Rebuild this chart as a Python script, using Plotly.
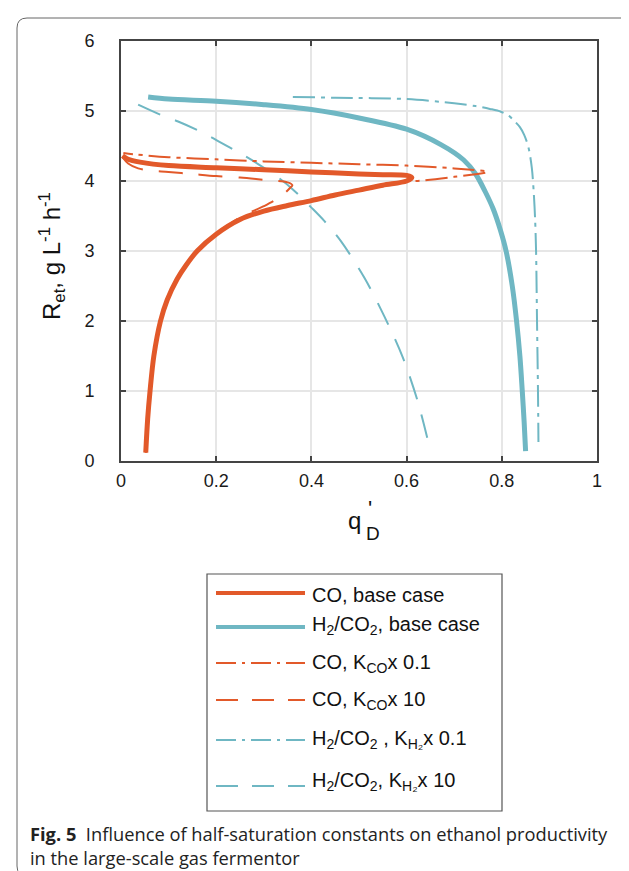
import plotly.graph_objects as go

# ---------------- data ----------------
co_base_x = [0.052, 0.056, 0.061, 0.069, 0.083, 0.097, 0.118, 0.137, 0.160, 0.200, 0.250, 0.300,
             0.350, 0.400, 0.450, 0.500, 0.550, 0.600, 0.611,
             0.600, 0.550, 0.500, 0.400, 0.300, 0.200, 0.100, 0.040, 0.015, 0.003]
co_base_y = [0.12, 0.60, 1.00, 1.50, 2.00, 2.30, 2.60, 2.80, 3.00, 3.24, 3.45, 3.57,
             3.65, 3.72, 3.80, 3.87, 3.94, 4.00, 4.05,
             4.08, 4.09, 4.10, 4.13, 4.16, 4.19, 4.22, 4.27, 4.31, 4.36]

co_k01_x = [0.052, 0.056, 0.061, 0.069, 0.083, 0.097, 0.118, 0.137, 0.160, 0.200, 0.250, 0.300,
            0.350, 0.400, 0.450, 0.500, 0.550, 0.600, 0.620,
            0.700, 0.770, 0.700, 0.600, 0.500, 0.400, 0.300, 0.200, 0.100, 0.030, 0.005]
co_k01_y = [0.12, 0.60, 1.00, 1.50, 2.00, 2.30, 2.60, 2.80, 3.00, 3.24, 3.45, 3.57,
            3.65, 3.72, 3.80, 3.87, 3.94, 4.00, 4.00,
            4.06, 4.13, 4.18, 4.22, 4.24, 4.26, 4.28, 4.31, 4.34, 4.38, 4.40]

co_k10_x = [0.052, 0.056, 0.061, 0.069, 0.083, 0.097, 0.118, 0.137, 0.160, 0.200, 0.250, 0.300,
            0.336, 0.355, 0.360, 0.350, 0.310, 0.250, 0.200, 0.150, 0.100, 0.060, 0.036, 0.015, 0.003]
co_k10_y = [0.12, 0.60, 1.00, 1.50, 2.00, 2.30, 2.60, 2.80, 3.00, 3.24, 3.48, 3.64,
            3.78, 3.90, 3.94, 3.98, 4.01, 4.05, 4.07, 4.10, 4.13, 4.15, 4.18, 4.25, 4.34]

h2_base_x = [0.057, 0.100, 0.200, 0.300, 0.400, 0.500, 0.600, 0.672, 0.720, 0.745, 0.765,
             0.782, 0.797, 0.809, 0.822, 0.831, 0.838, 0.843, 0.847, 0.850]
h2_base_y = [5.20, 5.17, 5.14, 5.09, 5.02, 4.90, 4.74, 4.52, 4.30, 4.10, 3.85,
             3.60, 3.30, 3.00, 2.50, 2.00, 1.50, 1.00, 0.55, 0.14]

h2_k01_x = [0.361, 0.450, 0.600, 0.700, 0.745, 0.775, 0.798, 0.815, 0.826, 0.838, 0.847,
            0.856, 0.863, 0.867, 0.870, 0.872, 0.874, 0.876, 0.877]
h2_k01_y = [5.20, 5.19, 5.17, 5.11, 5.07, 5.03, 4.99, 4.93, 4.86, 4.77, 4.66,
            4.48, 4.19, 3.85, 3.45, 3.00, 2.00, 1.00, 0.27]

h2_k10_x = [0.036, 0.085, 0.120, 0.172, 0.204, 0.252, 0.284, 0.330, 0.361, 0.400, 0.427,
            0.462, 0.511, 0.553, 0.592, 0.623, 0.646]
h2_k10_y = [5.09, 4.94, 4.85, 4.69, 4.57, 4.39, 4.26, 4.05, 3.88, 3.62, 3.43,
            3.14, 2.62, 2.07, 1.48, 0.86, 0.26]

x_ticks = [0, 0.2, 0.4, 0.6, 0.8, 1]
x_tick_labels = ["0", "0.2", "0.4", "0.6", "0.8", "1"]
y_ticks = [0, 1, 2, 3, 4, 5, 6]
y_tick_labels = ["0", "1", "2", "3", "4", "5", "6"]

legend_labels = [
    "CO, base case",
    "H<sub>2</sub>/CO<sub>2</sub>, base case",
    "CO, K<sub>CO</sub>x 0.1",
    "CO, K<sub>CO</sub>x 10",
    "H<sub>2</sub>/CO<sub>2</sub> , K<sub>H₂</sub>x 0.1",
    "H<sub>2</sub>/CO<sub>2</sub>, K<sub>H₂</sub>x 10",
]

# ---------------- style ----------------
ORANGE = "#E2592A"
TEAL = "#6FB7C3"
W, H = 629, 871
ML, MR, MT, MB = 113, 40, 33, 418
PW, PH = W - ML - MR, H - MT - MB
FONT = "Liberation Sans, Arial, sans-serif"
DASH = "24px,16px"
DASHDOT = "22px,6px,4px,6px"


def pxx(x):
    return (x - ML) / PW


def pxy(y):
    return (H - MB - y) / PH


series = [
    (h2_k10_x, h2_k10_y, TEAL, 2, DASH),
    (h2_k01_x, h2_k01_y, TEAL, 2, DASHDOT),
    (co_base_x, co_base_y, ORANGE, 5, "solid"),
    (h2_base_x, h2_base_y, TEAL, 5, "solid"),
    (co_k10_x, co_k10_y, ORANGE, 2, DASH),
    (co_k01_x, co_k01_y, ORANGE, 2, DASHDOT),
]

fig = go.Figure()
for xs, ys, col, w, d in series:
    fig.add_trace(go.Scatter(x=xs, y=ys, mode="lines",
                             line=dict(color=col, width=w, dash=d, shape="spline", smoothing=0.9),
                             showlegend=False, hoverinfo="skip"))

axis_common = dict(showline=True, mirror="ticks", linecolor="#444444", linewidth=1.6,
                   ticks="inside", ticklen=5, tickwidth=1.6, tickcolor="#444444",
                   showgrid=True, gridcolor="#E6E6E6", gridwidth=1.5, zeroline=False,
                   tickfont=dict(family=FONT, size=18, color="#1a1a1a"))

fig.update_xaxes(range=[0, 1], tickvals=x_ticks, ticktext=x_tick_labels,
                 ticklabelstandoff=3, **axis_common)
fig.update_yaxes(range=[0, 6], tickvals=y_ticks, ticktext=y_tick_labels,
                 ticklabelstandoff=21, **axis_common)

shapes = []
annotations = []

# outer rounded frame
fl, ft, fr, fb, rad = 9, 10, 627, 868, 10
path = (f"M{pxx(fl)},{pxy(ft+rad)} Q{pxx(fl)},{pxy(ft)} {pxx(fl+rad)},{pxy(ft)} "
        f"L{pxx(fr-rad)},{pxy(ft)} Q{pxx(fr)},{pxy(ft)} {pxx(fr)},{pxy(ft+rad)} "
        f"L{pxx(fr)},{pxy(fb-rad)} Q{pxx(fr)},{pxy(fb)} {pxx(fr-rad)},{pxy(fb)} "
        f"L{pxx(fl+rad)},{pxy(fb)} Q{pxx(fl)},{pxy(fb)} {pxx(fl)},{pxy(fb-rad)} Z")
shapes.append(dict(type="path", path=path, xref="paper", yref="paper",
                   line=dict(color="#666666", width=1)))

# legend box
shapes.append(dict(type="rect", xref="paper", yref="paper",
                   x0=pxx(199), x1=pxx(494), y0=pxy(566), y1=pxy(803),
                   line=dict(color="#555555", width=1.2), fillcolor="white"))
leg_styles = [(ORANGE, 4, "solid"), (TEAL, 4, "solid"), (ORANGE, 1.8, "dashdot"),
              (ORANGE, 1.8, "dash"), (TEAL, 1.8, "dashdot"), (TEAL, 1.8, "dash")]
leg_line_y = [585, 619, 655, 692, 732, 778]
leg_text_y = [587, 617, 655, 692, 731, 773]
leg_dash = {"solid": "solid", "dash": "22px,14px", "dashdot": "20px,6px,3px,6px"}
for (col, w, d), ly, ty, lab in zip(leg_styles, leg_line_y, leg_text_y, legend_labels):
    shapes.append(dict(type="line", xref="paper", yref="paper",
                       x0=pxx(208), x1=pxx(297), y0=pxy(ly), y1=pxy(ly),
                       line=dict(color=col, width=w, dash=leg_dash[d])))
    annotations.append(dict(text=lab, xref="paper", yref="paper", x=pxx(302), y=pxy(ty),
                            xanchor="left", yanchor="middle", showarrow=False,
                            font=dict(family=FONT, size=20, color="#111111")))

# axis titles
annotations.append(dict(text="R<sub>et</sub>, g L<sup>-1</sup> h<sup>-1</sup>",
                        xref="paper", yref="paper", x=pxx(44), y=pxy(248), textangle=-90,
                        xanchor="center", yanchor="middle", showarrow=False,
                        font=dict(family=FONT, size=24, color="#111111")))
annotations.append(dict(text="q", xref="paper", yref="paper", x=pxx(346), y=pxy(512),
                        xanchor="center", yanchor="middle", showarrow=False,
                        font=dict(family=FONT, size=24, color="#111111")))
annotations.append(dict(text="'", xref="paper", yref="paper", x=pxx(362), y=pxy(500),
                        xanchor="center", yanchor="middle", showarrow=False, borderpad=0,
                        font=dict(family=FONT, size=22, color="#111111")))
annotations.append(dict(text="D", xref="paper", yref="paper", x=pxx(365), y=pxy(525),
                        xanchor="center", yanchor="middle", showarrow=False, borderpad=0,
                        font=dict(family=FONT, size=19, color="#111111")))

# caption
annotations.append(dict(text="<b>Fig. 5</b>  Influence of half-saturation constants on ethanol productivity",
                        xref="paper", yref="paper", x=pxx(20), y=pxy(825),
                        xanchor="left", yanchor="middle", showarrow=False,
                        font=dict(family="Open Sans, sans-serif", size=18.3, color="#222222")))
annotations.append(dict(text="in the large-scale gas fermentor",
                        xref="paper", yref="paper", x=pxx(20), y=pxy(849),
                        xanchor="left", yanchor="middle", showarrow=False,
                        font=dict(family="Open Sans, sans-serif", size=18.3, color="#222222")))

fig.update_layout(width=W, height=H, margin=dict(l=ML, r=MR, t=MT, b=MB),
                  paper_bgcolor="white", plot_bgcolor="white",
                  shapes=shapes, annotations=annotations, showlegend=False)

fig.write_html("out.html")
